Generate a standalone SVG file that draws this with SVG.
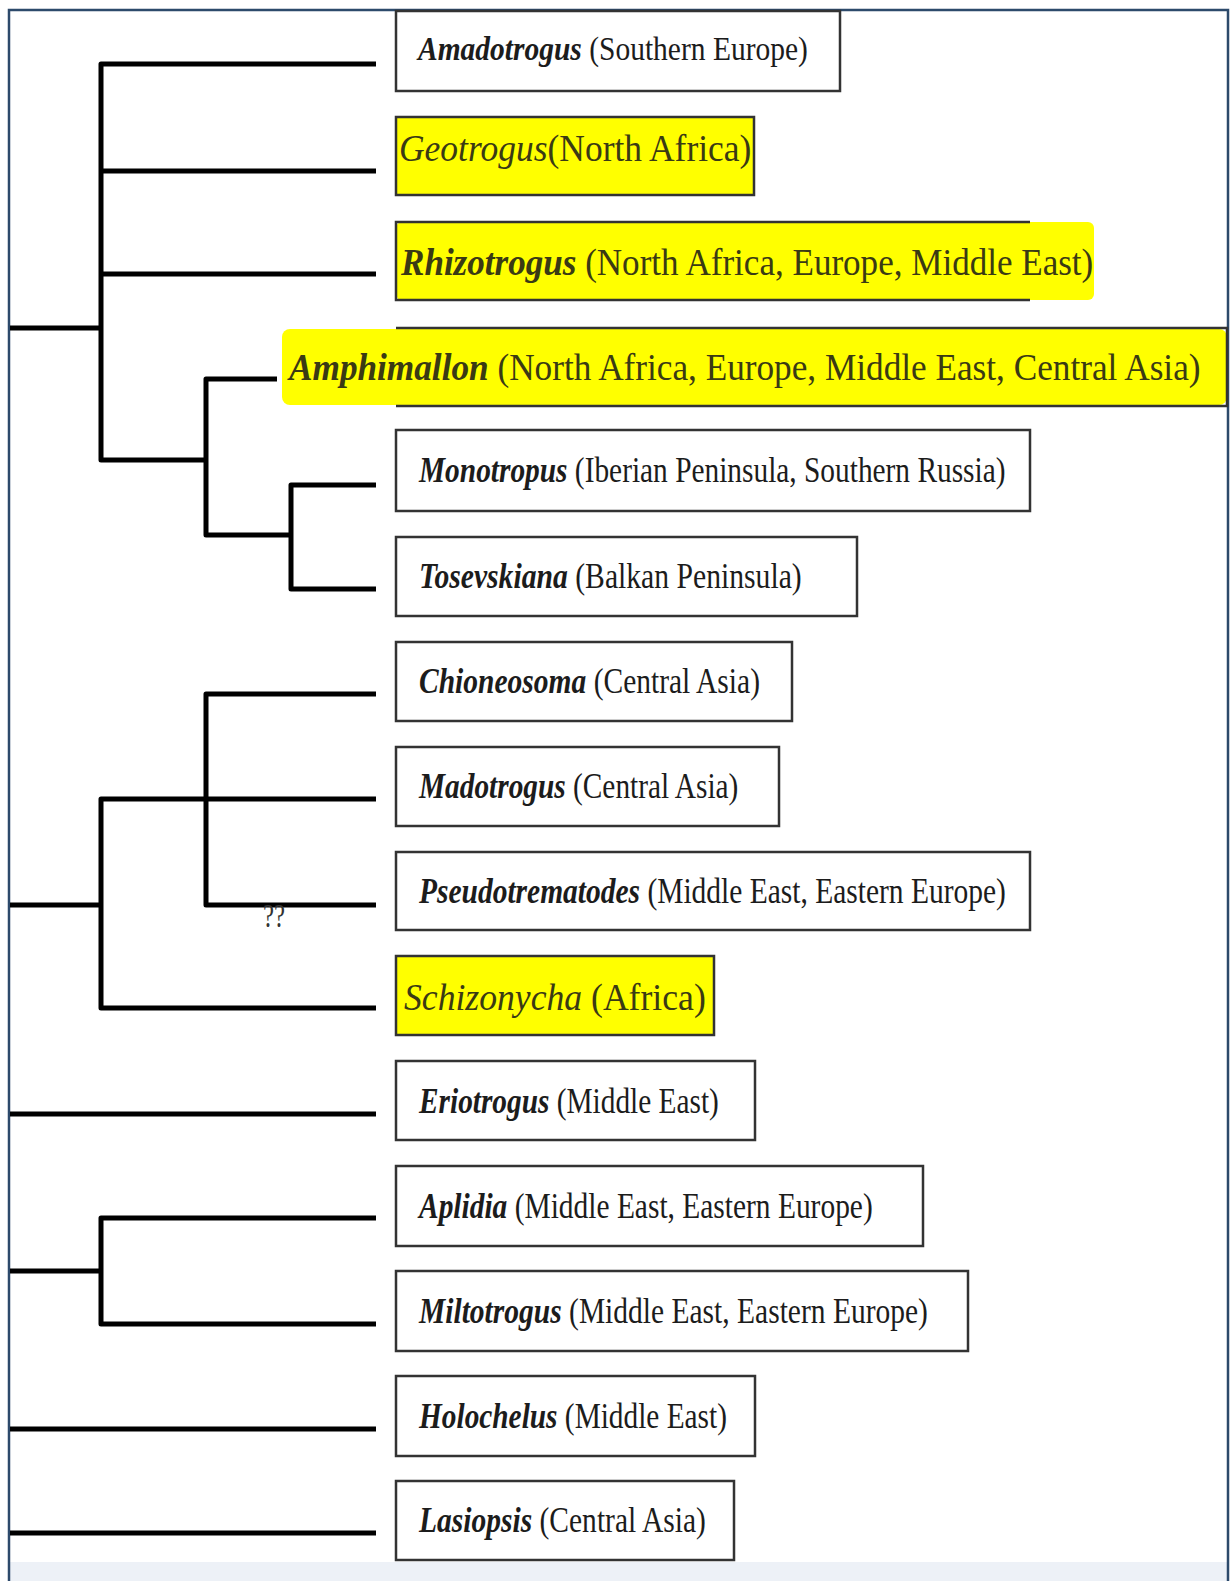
<svg xmlns="http://www.w3.org/2000/svg" width="1230" height="1581" viewBox="0 0 1230 1581">
<style>
.lbl{font-family:"Liberation Serif","Times New Roman",serif;font-size:36px;fill:#1c1c1c}
.hl{font-size:38px;fill:#3a3a14}
.sm{font-size:33px}
.g{font-style:italic;font-weight:bold}
.gi{font-style:italic;font-weight:normal}
.box{fill:#ffffff;stroke:#333333;stroke-width:2.5}
.ybox{fill:#ffff00;stroke:#333333;stroke-width:2.5}
.edge{fill:none;stroke:#000000;stroke-width:5;stroke-linejoin:round;stroke-linecap:butt}
.bl{stroke:#333333;stroke-width:2.5;fill:none}
</style>
<rect x="0" y="0" width="1230" height="1581" fill="#ffffff"/>
<rect x="10" y="1562" width="1218" height="19" fill="#edf1f7"/>
<path d="M9,1581 V10 H1228 V1581" fill="none" stroke="#2d4a6b" stroke-width="2.5"/>

<g id="connectors">
<path class="edge" d="M10,328 H101"/>
<path class="edge" d="M376,64 H101 V460 H206"/>
<path class="edge" d="M101,171 H376"/>
<path class="edge" d="M101,274 H376"/>
<path class="edge" d="M277,379 H206 V535 H291"/>
<path class="edge" d="M376,485 H291 V589 H376"/>
<path class="edge" d="M10,905 H101"/>
<path class="edge" d="M376,799 H101 V1008 H376"/>
<path class="edge" d="M376,694 H206 V905 H376"/>
<path class="edge" d="M10,1114 H376"/>
<path class="edge" d="M10,1271 H101"/>
<path class="edge" d="M376,1218 H101 V1324 H376"/>
<path class="edge" d="M10,1429 H376"/>
<path class="edge" d="M10,1533 H376"/>
<text transform="translate(263,927) scale(0.73,1)" font-family="Liberation Serif, serif" font-size="34" fill="#333333">??</text>
</g>

<g id="amadotrogus">
<rect class="box" x="396" y="11" width="444" height="80"/>
<text class="lbl sm" transform="translate(418,60) scale(0.894,1)"><tspan class="g">Amadotrogus</tspan> (Southern Europe)</text>
</g>

<g id="geotrogus">
<rect class="ybox" x="396" y="117" width="358" height="78"/>
<text class="lbl hl" transform="translate(399,161) scale(0.934,1)"><tspan class="gi">Geotrogus</tspan>(North Africa)</text>
</g>

<g id="rhizotrogus">
<rect x="396" y="222" width="698" height="78" rx="6" fill="#ffff00"/>
<path class="bl" d="M1030,222 H396 V300 H1030"/>
<text class="lbl hl" transform="translate(401,275) scale(0.923,1)"><tspan class="g">Rhizotrogus</tspan> (North Africa, Europe, Middle East)</text>
</g>

<g id="amphimallon">
<rect x="282" y="329" width="945" height="76" rx="8" fill="#ffff00"/>
<path class="bl" d="M396,328 H1227 V406 H396"/>
<text class="lbl hl" transform="translate(289,380) scale(0.927,1)"><tspan class="g">Amphimallon</tspan> (North Africa, Europe, Middle East, Central Asia)</text>
</g>

<g id="monotropus">
<rect class="box" x="396" y="430" width="634" height="81"/>
<text class="lbl" transform="translate(419,482) scale(0.816,1)"><tspan class="g">Monotropus</tspan> (Iberian Peninsula, Southern Russia)</text>
</g>

<g id="tosevskiana">
<rect class="box" x="396" y="537" width="461" height="79"/>
<text class="lbl" transform="translate(419,588) scale(0.824,1)"><tspan class="g">Tosevskiana</tspan> (Balkan Peninsula)</text>
</g>

<g id="chioneosoma">
<rect class="box" x="396" y="642" width="396" height="79"/>
<text class="lbl" transform="translate(419,693) scale(0.82,1)"><tspan class="g">Chioneosoma</tspan> (Central Asia)</text>
</g>

<g id="madotrogus">
<rect class="box" x="396" y="747" width="383" height="79"/>
<text class="lbl" transform="translate(419,798) scale(0.815,1)"><tspan class="g">Madotrogus</tspan> (Central Asia)</text>
</g>

<g id="pseudotrematodes">
<rect class="box" x="396" y="852" width="634" height="78"/>
<text class="lbl" transform="translate(419,903) scale(0.819,1)"><tspan class="g">Pseudotrematodes</tspan> (Middle East, Eastern Europe)</text>
</g>

<g id="schizonycha">
<rect class="ybox" x="396" y="956" width="318" height="79"/>
<text class="lbl hl" transform="translate(404,1010) scale(0.938,1)"><tspan class="gi">Schizonycha</tspan> (Africa)</text>
</g>

<g id="eriotrogus">
<rect class="box" x="396" y="1061" width="359" height="79"/>
<text class="lbl" transform="translate(419,1113) scale(0.815,1)"><tspan class="g">Eriotrogus</tspan> (Middle East)</text>
</g>

<g id="aplidia">
<rect class="box" x="396" y="1166" width="527" height="80"/>
<text class="lbl" transform="translate(419,1218) scale(0.818,1)"><tspan class="g">Aplidia</tspan> (Middle East, Eastern Europe)</text>
</g>

<g id="miltotrogus">
<rect class="box" x="396" y="1271" width="572" height="80"/>
<text class="lbl" transform="translate(419,1323) scale(0.82,1)"><tspan class="g">Miltotrogus</tspan> (Middle East, Eastern Europe)</text>
</g>

<g id="holochelus">
<rect class="box" x="396" y="1376" width="359" height="80"/>
<text class="lbl" transform="translate(419,1428) scale(0.815,1)"><tspan class="g">Holochelus</tspan> (Middle East)</text>
</g>

<g id="lasiopsis">
<rect class="box" x="396" y="1481" width="338" height="79"/>
<text class="lbl" transform="translate(419,1532) scale(0.82,1)"><tspan class="g">Lasiopsis</tspan> (Central Asia)</text>
</g>
</svg>
